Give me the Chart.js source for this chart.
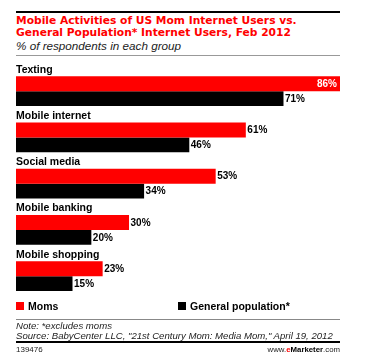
<!DOCTYPE html>
<html><head><meta charset="utf-8">
<script src="https://cdn.jsdelivr.net/npm/chart.js@4/dist/chart.umd.min.js"></script>
<style>
html,body{margin:0;padding:0;}
body{width:369px;height:357px;background:#fff;position:relative;overflow:hidden;font-family:"Liberation Sans",Arial,sans-serif;}
.abs{position:absolute;white-space:nowrap;}
.line{position:absolute;left:16px;width:324px;}
#wrap{position:absolute;left:0;top:56px;width:369px;height:245px;}
.sq{position:absolute;width:8px;height:8px;}
</style></head><body>
<div class="line" style="top:11px;height:2px;background:#000"></div>
<div class="abs" style="left:16px;top:15px;font-family:'DejaVu Sans',sans-serif;font-weight:bold;font-size:10.7px;color:#ff0000;line-height:12px;">Mobile Activities of US Mom Internet Users vs.<br>General Population* Internet Users, Feb 2012</div>
<div class="abs" style="left:16px;top:40px;font-style:italic;font-size:11.7px;color:#222;line-height:12px;">% of respondents in each group</div>
<div class="line" style="top:55px;height:1px;background:#999"></div>
<div id="wrap"><canvas id="c"></canvas></div>
<div class="sq" style="left:16px;top:302px;background:#ff0000"></div>
<div class="abs" style="left:28px;top:300px;font-weight:bold;font-size:10.5px;line-height:12px;color:#000">Moms</div>
<div class="sq" style="left:178px;top:302px;background:#000"></div>
<div class="abs" style="left:190px;top:300px;font-weight:bold;font-size:10.5px;line-height:12px;color:#000">General population*</div>
<div class="line" style="top:319px;height:1px;background:#888"></div>
<div class="abs" style="left:16px;top:321px;font-style:italic;font-size:9.6px;line-height:10px;color:#222">Note: *excludes moms</div>
<div class="abs" style="left:16px;top:331px;font-style:italic;font-size:9.6px;line-height:10px;color:#222">Source: BabyCenter LLC, "21st Century Mom: Media Mom," April 19, 2012</div>
<div class="line" style="top:341px;height:2px;background:#000"></div>
<div class="abs" style="left:16px;top:345px;font-size:8px;line-height:9px;color:#222">139476</div>
<div class="abs" style="right:29px;top:345px;font-size:7.8px;line-height:9px;color:#222">www.<span style="color:#ff0000;font-weight:bold">e</span><b style="color:#000">Marketer</b>.com</div>
<script>
const categories = ["Texting", "Mobile internet", "Social media", "Mobile banking", "Mobile shopping"];
const moms = [86, 61, 53, 30, 23];
const general = [71, 46, 34, 20, 15];
const seriesNames = ["Moms", "General population*"];

const labelPlugin = {
  id: 'labels',
  afterDatasetsDraw(chart) {
    const ctx = chart.ctx;
    ctx.save();
    const m0 = chart.getDatasetMeta(0);
    ctx.font = 'bold 10.5px "Liberation Sans", Arial, sans-serif';
    ctx.fillStyle = '#000';
    ctx.textAlign = 'left';
    ctx.textBaseline = 'alphabetic';
    m0.data.forEach((bar, i) => {
      const top = bar.y - bar.height / 2;
      ctx.fillText(categories[i], chart.chartArea.left, top - 3.5);
    });
    ctx.font = 'bold 10px "Liberation Sans", Arial, sans-serif';
    ctx.textBaseline = 'middle';
    chart.data.datasets.forEach((ds, di) => {
      const meta = chart.getDatasetMeta(di);
      meta.data.forEach((bar, i) => {
        const v = ds.data[i];
        const txt = v + '%';
        const w = ctx.measureText(txt).width;
        if (bar.x + 2 + w > chart.chartArea.right) {
          ctx.fillStyle = '#fff';
          ctx.textAlign = 'right';
          ctx.fillText(txt, bar.x - 3, bar.y + 0.5);
        } else {
          ctx.fillStyle = '#000';
          ctx.textAlign = 'left';
          ctx.fillText(txt, bar.x + 1.5, bar.y + 0.5);
        }
      });
    });
    ctx.restore();
  }
};

new Chart(document.getElementById('c'), {
  type: 'bar',
  data: {
    labels: categories,
    datasets: [
      { label: seriesNames[0], data: moms, backgroundColor: '#ff0000', borderWidth: 0 },
      { label: seriesNames[1], data: general, backgroundColor: '#000000', borderWidth: 0 }
    ]
  },
  options: {
    indexAxis: 'y',
    responsive: true,
    maintainAspectRatio: false,
    animation: false,
    layout: { padding: { left: 16, right: 29, top: 12, bottom: 1.75 } },
    datasets: { bar: { categoryPercentage: 0.6486, barPercentage: 1 } },
    scales: {
      x: { display: false, min: 0, max: 86 },
      y: { display: false }
    },
    plugins: { legend: { display: false }, tooltip: { enabled: false }, title: { display: false } }
  },
  plugins: [labelPlugin]
});
</script>
</body></html>
